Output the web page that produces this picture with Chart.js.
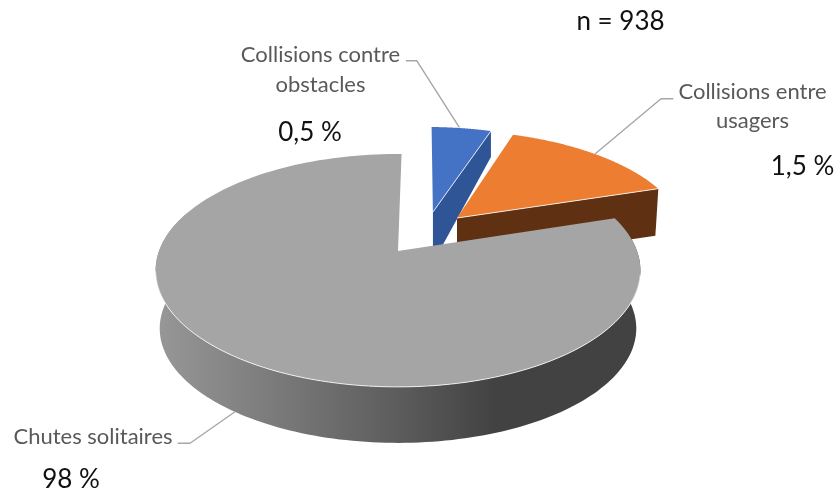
<!DOCTYPE html>
<html lang="fr">
<head>
<meta charset="utf-8">
<title>Collisions et chutes</title>
<script src="https://cdn.jsdelivr.net/npm/chart.js@4/dist/chart.umd.min.js"></script>
<style>html,body{margin:0;padding:0;background:#fff}canvas{display:block}</style>
</head>
<body>
<canvas id="c" width="837" height="494"></canvas>
<script>
// Data: slice names, the shares as drawn in the picture, and the printed percentages
const categories = ['Collisions contre obstacles', 'Collisions entre usagers', 'Chutes solitaires'];
const drawnShares = [5, 14.8, 80.2];
const printedPercent = ['0,5 %', '1,5 %', '98 %'];
const sampleNote = 'n = 938';

// Styles
const topColors = ['#4472c4', '#ed7d31', '#a5a5a5'];
const sideColors = ['#2f5597', '#5f3112', null];
const labelColor = '#595959', valueColor = '#111111', leaderColor = '#a6a6a6';
const labelFont = '22px Lato', valueFont = '26px Lato';

// Projection of the unit disc to the page (tilted perspective)
const view = {cx: 398, y0: 251, a: 239, b: 113.2, p: 0.167};
const explode = [[0.155, -0.3655], [0.2595, -0.306], [0, 0]];
const rimScale = [0.975, 0.987, 1];
const depth = {blue: {apex: 51, rim: 26}, orange: {apex: 47, rim: 47, dx: -3}, gray: {scale: 0.983, d: 58.3}};

function proj(u, v) {
  const w = 1 - view.p * v;
  return {x: view.cx + view.a * u / w, y: view.y0 + view.b * v / w};
}
function rimPoint(i, t) {
  return proj(explode[i][0] + rimScale[i] * Math.cos(t), explode[i][1] + rimScale[i] * Math.sin(t));
}
function apexPoint(i) { return proj(explode[i][0], explode[i][1]); }
function grayBottom(q) {
  return {x: view.cx + (q.x - view.cx) * depth.gray.scale,
          y: view.y0 + (q.y - view.y0) * depth.gray.scale + depth.gray.d};
}
function poly(ctx, pts) {
  ctx.beginPath();
  pts.forEach((q, k) => k ? ctx.lineTo(q.x, q.y) : ctx.moveTo(q.x, q.y));
  ctx.closePath();
}
function rimPoints(i, a0, a1) {
  const n = 160, out = [];
  for (let k = 0; k <= n; k++) out.push(rimPoint(i, a0 + (a1 - a0) * k / n));
  return out;
}
const bevel = 'rgba(255,255,255,0.8)';
function edge(ctx, pts) {
  ctx.beginPath();
  pts.forEach((q, k) => k ? ctx.lineTo(q.x, q.y) : ctx.moveTo(q.x, q.y));
  ctx.strokeStyle = bevel; ctx.lineWidth = 1; ctx.stroke();
}

const pie3d = {
  id: 'pie3d',
  beforeDatasetsDraw(chart) {
    const ctx = chart.ctx;
    const arcs = chart.getDatasetMeta(0).data;
    const rad = Math.PI / 180;
    ctx.save();
    ctx.lineJoin = 'round';
    // flat cut faces and tops of the two pulled-out slices
    [0, 1].forEach(i => {
      const el = arcs[i];
      const A = apexPoint(i), E = rimPoint(i, el.endAngle);
      const d = i === 0 ? depth.blue : depth.orange, dx = d.dx || 0;
      poly(ctx, [A, E, {x: E.x + dx, y: E.y + d.rim}, {x: A.x, y: A.y + d.apex}]);
      ctx.fillStyle = sideColors[i]; ctx.fill();
      poly(ctx, [A].concat(rimPoints(i, el.startAngle, el.endAngle)));
      ctx.fillStyle = topColors[i]; ctx.fill();
      edge(ctx, [A, E]);
    });
    // the large slice: shaded wall (front part only), then top
    const g = arcs[2];
    const rim = rimPoints(2, g.startAngle, g.endAngle);
    const front = rimPoints(2, g.startAngle, 200 * rad);
    const grad = ctx.createLinearGradient(158, 0, 640, 0);
    grad.addColorStop(0, '#979797');
    grad.addColorStop(0.5, '#5c5c5c');
    grad.addColorStop(0.7, '#424242');
    grad.addColorStop(1, '#424242');
    poly(ctx, front.concat(front.map(grayBottom).reverse()));
    ctx.fillStyle = grad; ctx.fill();
    poly(ctx, [apexPoint(2)].concat(rim));
    ctx.fillStyle = topColors[2]; ctx.fill();
    edge(ctx, rimPoints(2, 12 * rad, 170 * rad));
    // leader lines
    ctx.strokeStyle = leaderColor; ctx.lineWidth = 1.4;
    [[[406, 60.7], [416.7, 60.7], [459.3, 127.3]],
     [[673.3, 98.7], [661, 98.7], [595, 154]],
     [[177.7, 443.3], [190, 443.3], [235, 411.7]]].forEach(l => {
      ctx.beginPath();
      l.forEach((q, k) => k ? ctx.lineTo(q[0], q[1]) : ctx.moveTo(q[0], q[1]));
      ctx.stroke();
    });
    // text
    ctx.textAlign = 'center';
    ctx.textBaseline = 'alphabetic';
    ctx.font = labelFont; ctx.fillStyle = labelColor;
    ctx.fillText('Collisions contre', 320.5, 62);
    ctx.fillText('obstacles', 320.5, 92);
    ctx.fillText('Collisions entre', 752.5, 99);
    ctx.fillText('usagers', 752.5, 128);
    ctx.fillText(categories[2], 93, 444);
    ctx.font = valueFont; ctx.fillStyle = valueColor;
    ctx.fillText(printedPercent[0], 310, 141);
    ctx.fillText(printedPercent[1], 802.5, 175);
    ctx.fillText(printedPercent[2], 71, 488);
    ctx.fillText(sampleNote, 620.5, 30);
    ctx.restore();
    return false;
  }
};

new Chart(document.getElementById('c'), {
  type: 'pie',
  data: {labels: categories, datasets: [{data: drawnShares, backgroundColor: topColors, borderWidth: 0}]},
  options: {
    responsive: false, animation: false, rotation: 1,
    plugins: {legend: {display: false}, tooltip: {enabled: false}, title: {display: false}}
  },
  plugins: [pie3d]
});
</script>
</body>
</html>
